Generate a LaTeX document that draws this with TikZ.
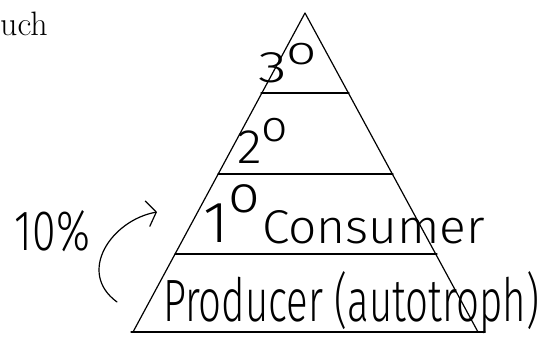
\documentclass[tikz,border=0pt]{standalone}
\usepackage{fontspec}
\usepackage{graphicx}
\usetikzlibrary{arrows.meta}
\newfontfamily\hand{Fira Sans Light}
\newcommand{\fitto}[3]{\resizebox{#1}{#2}{\hand #3}}
\newcommand{\degsup}[2]{#1\raisebox{#2}{\small o}}
\tikzset{
  edge/.style={line width=1.2bp, line cap=round, line join=round},
  handtxt/.style={anchor=base west, inner sep=0pt, outer sep=0pt},
  printtxt/.style={anchor=base west, inner sep=0pt, font=\fontsize{34}{34}\selectfont},
}
\begin{document}
\begin{tikzpicture}[x=1bp,y=-1bp]
\useasboundingbox (0,0) rectangle (545,339);
% printed text fragment
\node[printtxt] (uch) at (0,35) {uch};
% pyramid
\coordinate (apex) at (305,13);
\coordinate (bl) at (133,332);
\coordinate (br) at (478,332);
\coordinate (bl2) at (131,332);
\coordinate (br2) at (485,332);
\coordinate (l1) at (261,93);   \coordinate (r1) at (349,93);
\coordinate (l2) at (218,174);  \coordinate (r2) at (393,174);
\coordinate (l3) at (175,254);  \coordinate (r3) at (437,254);
\draw[edge] (bl) -- (apex) -- (br);
\draw[edge] (bl2) -- (br2);
\draw[edge] (l1) -- (r1);
\draw[edge] (l2) -- (r2);
\draw[edge] (l3) -- (r3);
% handwritten labels
\node[handtxt] (t3) at (258,82) {\fitto{59bp}{39bp}{\degsup{3}{0.4em}}};
\node[handtxt] (t2) at (237,163) {\fitto{51bp}{45bp}{\degsup{2}{0.45em}}};
\node[handtxt] (t1) at (203,242) {\fitto{57bp}{57bp}{\degsup{1}{0.5em}}};
\node[handtxt] (cons) at (262,243) {\fitto{223bp}{33bp}{Consumer}};
\node[handtxt] (prod) at (163,321) {\fitto{376bp}{50bp}{Producer (autotroph)}};
\node[handtxt] (pct) at (15,250) {\fitto{75bp}{40bp}{10\%}};
% curved arrow
\coordinate (arrS) at (117,302);
\coordinate (arrE) at (157,212);
\draw[edge, -{Straight Barb[length=9bp,width=26bp]}] (arrS) .. controls (76,272) and (112,220) .. (arrE);
\end{tikzpicture}
\end{document}
